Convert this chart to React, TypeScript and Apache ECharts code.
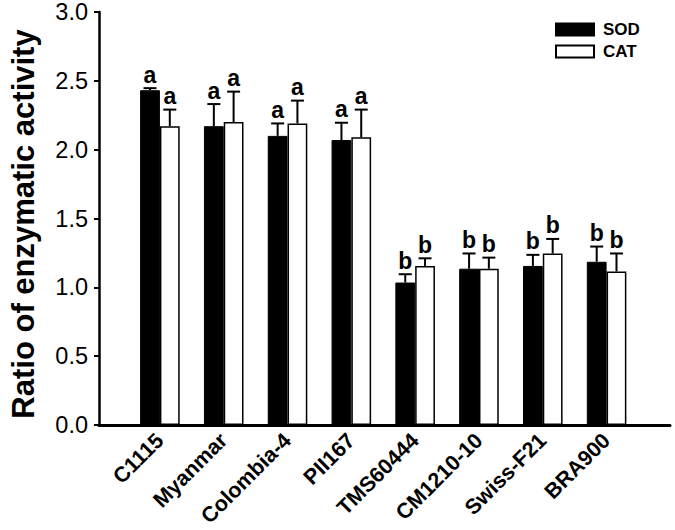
import * as echarts from 'echarts';
import { useEffect, useRef } from 'react';

const categories = ['C1115', 'Myanmar', 'Colombia-4', 'PII167', 'TMS60444', 'CM1210-10', 'Swiss-F21', 'BRA900'];
const sodValues = [2.42, 2.16, 2.09, 2.06, 1.03, 1.13, 1.15, 1.18];
const sodErrors = [0.015, 0.16, 0.09, 0.125, 0.06, 0.11, 0.08, 0.11];
const catValues = [2.16, 2.19, 2.18, 2.08, 1.15, 1.13, 1.24, 1.11];
const catErrors = [0.12, 0.22, 0.165, 0.2, 0.055, 0.08, 0.105, 0.13];
const sodLetters = ['a', 'a', 'a', 'a', 'b', 'b', 'b', 'b'];
const catLetters = ['a', 'a', 'a', 'a', 'b', 'b', 'b', 'b'];
const yMin = 0;
const yMax = 3;
const yStep = 0.5;

const FONT = '"Liberation Sans", Arial, Helvetica, sans-serif';
const CAT_GAP = 0.38;

function makeErr(side: number, letters: string[]) {
  return (params: any, api: any) => {
    const idx = api.value(0);
    const mean = api.value(1);
    const err = api.value(2);
    const band = api.size([1, 0])[0];
    const bw = (band * (1 - CAT_GAP)) / 2;
    const base = api.coord([idx, mean]);
    const top = api.coord([idx, mean + err]);
    const x = base[0] + (side * bw) / 2;
    const capW = 13;
    return {
      type: 'group',
      children: [
        { type: 'line', shape: { x1: x, y1: base[1], x2: x, y2: top[1] }, style: { stroke: '#000', lineWidth: 2 } },
        { type: 'line', shape: { x1: x - capW / 2, y1: top[1], x2: x + capW / 2, y2: top[1] }, style: { stroke: '#000', lineWidth: 2 } },
        {
          type: 'text',
          style: {
            text: letters[params.dataIndex],
            x,
            y: top[1] - 2,
            align: 'center',
            verticalAlign: 'bottom',
            fontSize: 23,
            fontWeight: 'bold',
            fontFamily: FONT,
            fill: '#000',
          },
        },
      ],
    };
  };
}

export default function App() {
  const ref = useRef<HTMLDivElement>(null);
  useEffect(() => {
    if (!ref.current) return;
    const chart = echarts.init(ref.current, null, { renderer: 'svg' });
    chart.setOption({
      animation: false,
      grid: [
        { left: 92, right: 5, top: 10, bottom: 105 },
        { left: 128, right: 36.5, top: 10, bottom: 105 },
      ],
      legend: {
        data: ['SOD', 'CAT'],
        orient: 'vertical',
        left: 550,
        top: 16,
        itemWidth: 38,
        itemHeight: 12,
        itemGap: 5,
        icon: 'rect',
        textStyle: { fontSize: 17, fontWeight: 'bold', color: '#000', fontFamily: FONT, padding: [0, 0, 0, 4] },
      },
      xAxis: [
        {
          gridIndex: 0,
          type: 'value',
          min: 0,
          max: 1,
          axisLine: { show: true, lineStyle: { color: '#000', width: 3 } },
          axisTick: { show: false },
          axisLabel: { show: false },
          splitLine: { show: false },
        },
        {
          gridIndex: 1,
          type: 'category',
          data: categories,
          axisLine: { show: false },
          axisTick: { show: false },
          axisLabel: {
            rotate: 45,
            interval: 0,
            fontSize: 21.5,
            fontWeight: 'bold',
            color: '#000',
            fontFamily: FONT,
            margin: 12,
          },
          splitLine: { show: false },
        },
      ],
      yAxis: [
        {
          gridIndex: 0,
          type: 'value',
          min: yMin,
          max: yMax,
          interval: yStep,
          axisLine: { show: true, lineStyle: { color: '#000', width: 2.5 } },
          axisTick: { show: true, length: 5, lineStyle: { color: '#000', width: 2 } },
          axisLabel: {
            fontSize: 23.5,
            color: '#000',
            fontFamily: FONT,
            margin: 11,
            formatter: (v: number) => v.toFixed(1),
          },
          splitLine: { show: false },
          name: 'Ratio of enzymatic activity',
          nameLocation: 'middle',
          nameGap: 60,
          nameTextStyle: { fontSize: 31, fontWeight: 'bold', color: '#000', fontFamily: FONT, padding: [0, 11, 0, 0] },
        },
        { gridIndex: 1, type: 'value', min: yMin, max: yMax, show: false },
      ],
      series: [
        {
          name: 'SOD',
          type: 'bar',
          xAxisIndex: 1,
          yAxisIndex: 1,
          data: sodValues,
          barGap: '0%',
          barCategoryGap: CAT_GAP * 100 + '%',
          itemStyle: { color: '#000', borderColor: '#000', borderWidth: 1 },
        },
        {
          name: 'CAT',
          type: 'bar',
          xAxisIndex: 1,
          yAxisIndex: 1,
          data: catValues,
          barGap: '0%',
          barCategoryGap: CAT_GAP * 100 + '%',
          itemStyle: { color: '#fff', borderColor: '#000', borderWidth: 1.5 },
        },
        {
          type: 'custom',
          xAxisIndex: 1,
          yAxisIndex: 1,
          z: 5,
          renderItem: makeErr(-1, sodLetters),
          data: sodValues.map((v, i) => [i, v, sodErrors[i]]),
        },
        {
          type: 'custom',
          xAxisIndex: 1,
          yAxisIndex: 1,
          z: 5,
          renderItem: makeErr(1, catLetters),
          data: catValues.map((v, i) => [i, v, catErrors[i]]),
        },
      ],
    });
    return () => chart.dispose();
  }, []);
  return <div ref={ref} style={{ position: 'absolute', left: 0, top: 0, width: 675, height: 530 }} />;
}
